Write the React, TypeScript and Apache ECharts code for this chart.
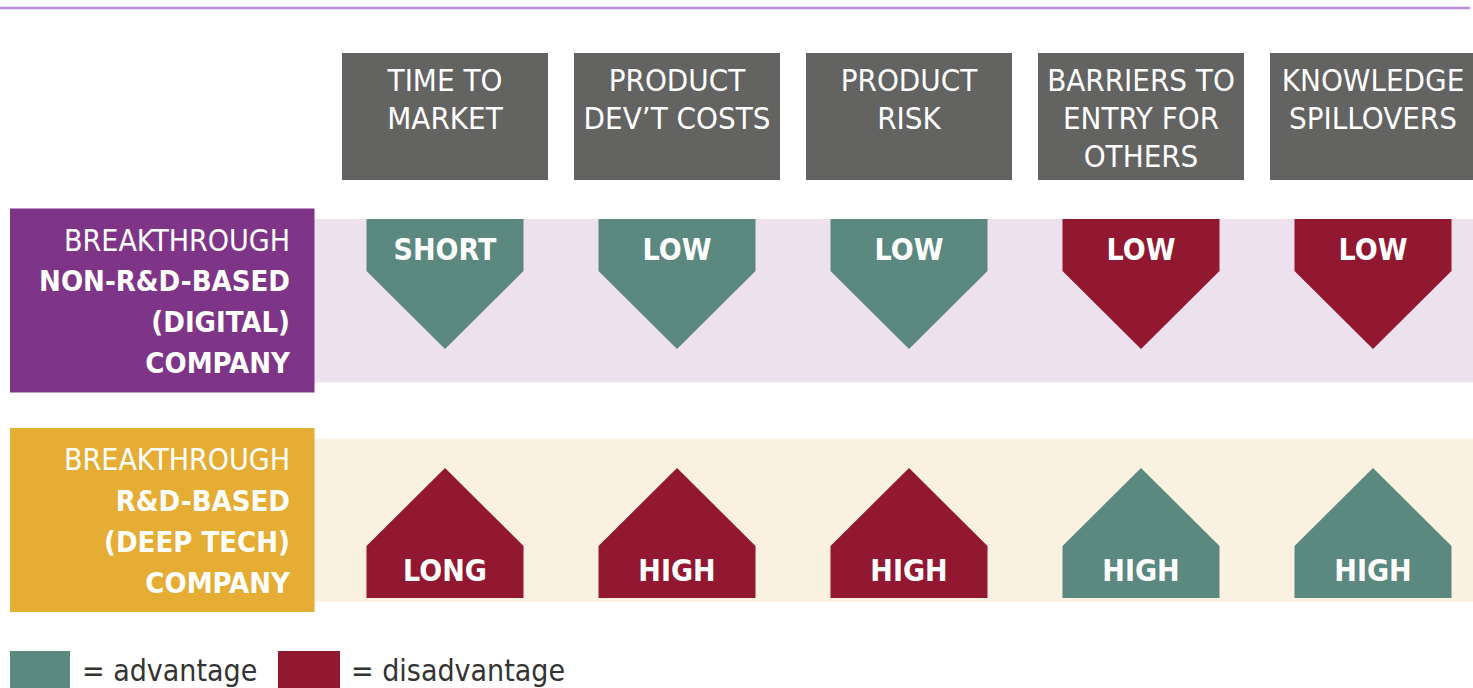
import React, { useEffect, useRef } from "react";
import * as echarts from "echarts";

// ---- data ----
const factors = [
  "TIME TO\nMARKET",
  "PRODUCT\nDEV’T COSTS",
  "PRODUCT\nRISK",
  "BARRIERS TO\nENTRY FOR\nOTHERS",
  "KNOWLEDGE\nSPILLOVERS",
];
const companyTypes = [
  "BREAKTHROUGH\nNON-R&D-BASED\n(DIGITAL)\nCOMPANY",
  "BREAKTHROUGH\nR&D-BASED\n(DEEP TECH)\nCOMPANY",
];
const digitalLevels = ["SHORT", "LOW", "LOW", "LOW", "LOW"];
const deepTechLevels = ["LONG", "HIGH", "HIGH", "HIGH", "HIGH"];
const digitalAdvantage = [true, true, true, false, false];
const deepTechAdvantage = [false, false, false, true, true];
const rowDirections = ["down", "up"];
const legendLabels = ["= advantage", "= disadvantage"];

// ---- styles / layout ----
const FONT = "'DejaVu Sans Condensed', 'DejaVu Sans', sans-serif";
const ADV = "#5b887f";
const DIS = "#921731";
const HEADER_BG = "#636362";
const ROW_BOX = ["#7f3587", "#e5ad33"];
const ROW_BAND = ["#ede1ee", "#fbf1e1"];
const GRID_LEFT = 329;
const COL_PITCH = 232;
const CHART_W = 1473;

const levels = [digitalLevels, deepTechLevels];
const advantages = [digitalAdvantage, deepTechAdvantage];

type Cell = { col: number; row: number; text: string; adv: boolean };
const cells: Cell[] = [];
levels.forEach((rowVals, r) =>
  rowVals.forEach((t, c) => cells.push({ col: c, row: r, text: t, adv: advantages[r][c] }))
);

export default function App() {
  const ref = useRef<HTMLDivElement>(null);
  useEffect(() => {
    if (!ref.current) return;
    const chart = echarts.init(ref.current, undefined, { renderer: "svg" });

    const option: any = {
      animation: false,
      backgroundColor: "#ffffff",
      grid: { left: GRID_LEFT, top: 190.75, right: 0, height: 439 },
      xAxis: {
        type: "value",
        min: -0.5,
        max: -0.5 + (CHART_W - GRID_LEFT) / COL_PITCH,
        show: false,
      },
      yAxis: { type: "category", data: companyTypes, inverse: true, show: false },
      graphic: [
        {
          type: "line",
          shape: { x1: 0, y1: 8, x2: 1470, y2: 8 },
          style: { stroke: "#c08bd6", lineWidth: 2.5 },
        },
        {
          type: "rect",
          shape: { x: 10, y: 651, width: 60, height: 40 },
          style: { fill: ADV },
        },
        {
          type: "text",
          x: 82,
          y: 670,
          style: {
            text: legendLabels[0],
            fill: "#333333",
            font: `30px ${FONT}`,
            verticalAlign: "middle",
          },
        },
        {
          type: "rect",
          shape: { x: 278, y: 651, width: 62, height: 40 },
          style: { fill: DIS },
        },
        {
          type: "text",
          x: 351,
          y: 670,
          style: {
            text: legendLabels[1],
            fill: "#333333",
            font: `30px ${FONT}`,
            verticalAlign: "middle",
          },
        },
      ],
      series: [
        {
          type: "custom",
          name: "rows",
          silent: true,
          data: companyTypes.map((_, r) => [0, r]),
          renderItem: (params: any, api: any) => {
            const r = params.dataIndex;
            const cy = api.coord([0, r])[1];
            const lines = companyTypes[r].split("\n");
            const rich = lines
              .map((l, i) => (i === 0 ? `{r|${l}}` : `{b|${l}}`))
              .join("\n");
            return {
              type: "group",
              children: [
                {
                  type: "rect",
                  shape: { x: 314, y: cy - 81.5, width: 1200, height: 163.5 },
                  style: { fill: ROW_BAND[r] },
                },
                {
                  type: "rect",
                  shape: { x: 10, y: cy - 92, width: 304.5, height: 184 },
                  style: { fill: ROW_BOX[r] },
                },
                {
                  type: "text",
                  x: 290,
                  y: cy + 1,
                  style: {
                    text: rich,
                    align: "right",
                    verticalAlign: "middle",
                    rich: {
                      r: {
                        fill: "#ffffff",
                        fontFamily: FONT,
                        fontSize: 30,
                        fontWeight: "normal",
                        lineHeight: 41,
                        align: "right",
                      },
                      b: {
                        fill: "#ffffff",
                        fontFamily: FONT,
                        fontSize: 29,
                        fontWeight: "bold",
                        lineHeight: 41,
                        align: "right",
                      },
                    },
                  },
                },
              ],
            };
          },
        },
        {
          type: "custom",
          name: "headers",
          silent: true,
          data: factors.map((_, c) => [c, 0]),
          renderItem: (params: any, api: any) => {
            const c = params.dataIndex;
            const cx = api.coord([c, 0])[0];
            return {
              type: "group",
              children: [
                {
                  type: "rect",
                  shape: { x: cx - 103, y: 53, width: 206, height: 127 },
                  style: { fill: HEADER_BG },
                },
                {
                  type: "text",
                  x: cx,
                  y: 61,
                  style: {
                    text: factors[c],
                    fill: "#ffffff",
                    fontFamily: FONT,
                    fontSize: 31,
                    lineHeight: 38,
                    align: "center",
                    verticalAlign: "top",
                  },
                },
              ],
            };
          },
        },
        {
          type: "custom",
          name: "cells",
          silent: true,
          data: cells.map((d) => [d.col, d.row]),
          renderItem: (params: any, api: any) => {
            const d = cells[params.dataIndex];
            const [cx, cy] = api.coord([d.col, d.row]);
            const hw = 78.5;
            const fill = d.adv ? ADV : DIS;
            let points: number[][];
            let ty: number;
            if (rowDirections[d.row] === "down") {
              const top = cy - 81.5;
              points = [
                [cx - hw, top],
                [cx + hw, top],
                [cx + hw, top + 52],
                [cx, top + 130],
                [cx - hw, top + 52],
              ];
              ty = top + 30;
            } else {
              const bottom = cy + 78;
              points = [
                [cx - hw, bottom],
                [cx - hw, bottom - 52],
                [cx, bottom - 130],
                [cx + hw, bottom - 52],
                [cx + hw, bottom],
              ];
              ty = bottom - 28;
            }
            return {
              type: "group",
              children: [
                { type: "polygon", shape: { points }, style: { fill } },
                {
                  type: "text",
                  x: cx,
                  y: ty,
                  style: {
                    text: d.text,
                    fill: "#ffffff",
                    fontFamily: FONT,
                    fontWeight: "bold",
                    fontSize: 30,
                    align: "center",
                    verticalAlign: "middle",
                  },
                },
              ],
            };
          },
        },
      ],
    };
    chart.setOption(option);
    return () => chart.dispose();
  }, []);

  return (
    <div
      ref={ref}
      style={{ position: "fixed", left: 0, top: 0, width: CHART_W, height: 688 }}
    />
  );
}
